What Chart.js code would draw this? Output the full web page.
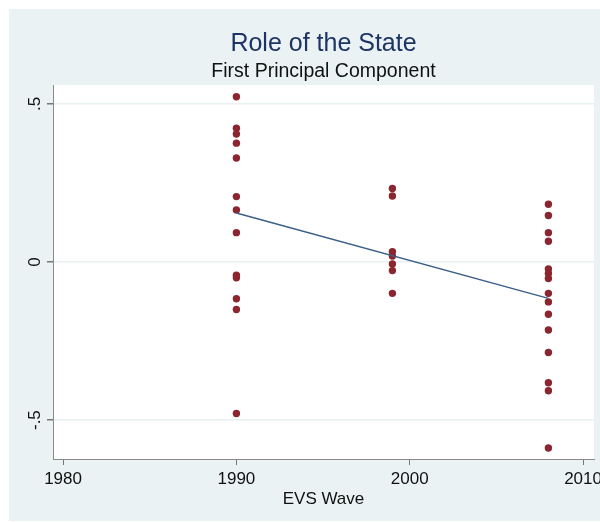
<!DOCTYPE html>
<html lang="en">
<head>
    <meta charset="UTF-8">
    <title>Role of the State</title>
    <script src="https://cdn.jsdelivr.net/npm/chart.js"></script>
    <style>
        body { margin: 0; background: #ffffff; }
    </style>
</head>
<body>

    <canvas id="pcChart" width="600" height="522"></canvas>

    <script>
        // EVS waves and first principal component scores
        const wave1990 = 1990;
        const wave1999 = 1999;
        const wave2008 = 2008;
        const pc1990 = [0.523, 0.423, 0.405, 0.376, 0.329, 0.207, 0.165, 0.093, -0.042, -0.050, -0.116, -0.150, -0.479];
        const pc1999 = [0.233, 0.209, 0.033, 0.019, -0.006, -0.027, -0.099];
        const pc2008 = [0.183, 0.147, 0.093, 0.066, -0.022, -0.036, -0.052, -0.099, -0.126, -0.165, -0.215, -0.286, -0.382, -0.407, -0.588];

        // fitted line
        const fitYears = [1990, 2008];
        const fitValues = [0.155, -0.115];

        // axis ticks
        const xTicks = [1980, 1990, 2000, 2010];
        const yTicks = [-0.5, 0, 0.5];
        const yTickLabels = ['-.5', '0', '.5'];

        const points = [];
        pc1990.forEach(v => points.push({ x: wave1990, y: v }));
        pc1999.forEach(v => points.push({ x: wave1999, y: v }));
        pc2008.forEach(v => points.push({ x: wave2008, y: v }));

        const fitPoints = fitYears.map((yr, i) => ({ x: yr, y: fitValues[i] }));

        // Stata-like background : light panel + white plot region
        const backgroundPlugin = {
            id: 'stataBackground',
            beforeDraw(chart) {
                const ctx = chart.ctx;
                const a = chart.chartArea;
                ctx.save();
                ctx.fillStyle = '#ffffff';
                ctx.fillRect(0, 0, chart.width, chart.height);
                ctx.fillStyle = '#eaf2f3';
                ctx.fillRect(9, 9, chart.width - 9, chart.height - 10);
                ctx.fillStyle = '#ffffff';
                ctx.fillRect(a.left, a.top, a.right - a.left, a.bottom - a.top);
                ctx.restore();
            }
        };

        const ctx = document.getElementById('pcChart').getContext('2d');
        new Chart(ctx, {
            type: 'scatter',
            data: {
                datasets: [
                    {
                        type: 'line',
                        data: fitPoints,
                        borderColor: '#3b5f86',
                        borderWidth: 1.5,
                        pointRadius: 0,
                        fill: false,
                        order: 0
                    },
                    {
                        data: points,
                        backgroundColor: '#8b2530',
                        borderColor: '#8b2530',
                        borderWidth: 0,
                        pointRadius: 3.7,
                        order: 1
                    }
                ]
            },
            options: {
                responsive: false,
                animation: false,
                events: [],
                layout: { padding: { top: 0, left: 0, right: 6, bottom: 0 } },
                plugins: {
                    legend: { display: false },
                    tooltip: { enabled: false },
                    title: {
                        display: true,
                        text: 'Role of the State',
                        fullSize: false,
                        color: '#1e3466',
                        font: { family: 'Liberation Sans', size: 25, weight: 'normal' },
                        padding: { top: 29.5, bottom: 0 }
                    },
                    subtitle: {
                        display: true,
                        text: 'First Principal Component',
                        fullSize: false,
                        color: '#111111',
                        font: { family: 'Liberation Sans', size: 19.5, weight: 'normal' },
                        padding: { top: 0.8, bottom: 1.3 }
                    }
                },
                scales: {
                    x: {
                        type: 'linear',
                        min: 1979.42,
                        max: 2010.63,
                        afterBuildTicks(scale) {
                            scale.ticks = xTicks.map(v => ({ value: v }));
                        },
                        afterFit(scale) {
                            scale.height = 63;
                            scale.paddingLeft = 0;
                            scale.paddingRight = 0;
                        },
                        ticks: {
                            color: '#111111',
                            font: { family: 'Liberation Sans', size: 17 },
                            padding: 4,
                            maxRotation: 0,
                            minRotation: 0,
                            callback: v => String(v)
                        },
                        grid: {
                            drawOnChartArea: false,
                            drawTicks: true,
                            tickLength: 6,
                            tickColor: '#777777'
                        },
                        border: { display: true, color: '#8a8a8a', width: 1 },
                        title: {
                            display: true,
                            text: 'EVS Wave',
                            color: '#111111',
                            font: { family: 'Liberation Sans', size: 17 },
                            padding: { top: 0, bottom: 12.8 }
                        }
                    },
                    y: {
                        type: 'linear',
                        min: -0.623,
                        max: 0.56,
                        afterBuildTicks(scale) {
                            scale.ticks = yTicks.map(v => ({ value: v }));
                        },
                        afterFit(scale) {
                            scale.width = 53;
                            scale.paddingTop = 0;
                            scale.paddingBottom = 0;
                        },
                        ticks: {
                            color: '#111111',
                            font: { family: 'Liberation Sans', size: 17 },
                            padding: 2,
                            minRotation: 90,
                            maxRotation: 90,
                            crossAlign: 'center',
                            callback: v => {
                                const i = yTicks.indexOf(v);
                                return i >= 0 ? yTickLabels[i] : '';
                            }
                        },
                        grid: {
                            color: '#e8f0f2',
                            lineWidth: 1.5,
                            drawTicks: true,
                            tickLength: 6,
                            tickColor: '#777777'
                        },
                        border: { display: true, color: '#8a8a8a', width: 1 }
                    }
                }
            },
            plugins: [backgroundPlugin]
        });
    </script>
</body>
</html>
